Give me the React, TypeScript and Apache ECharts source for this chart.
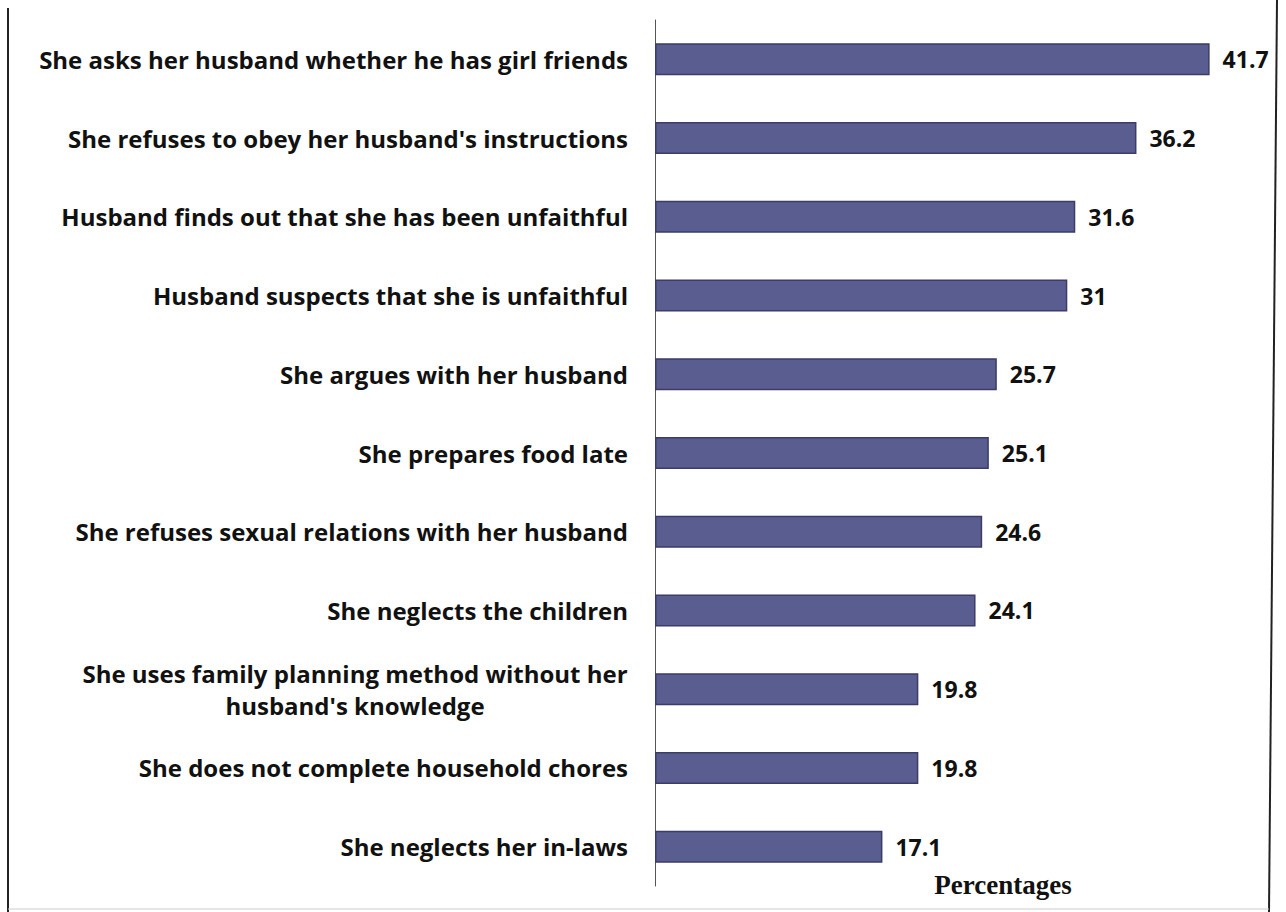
import React, { useEffect, useRef } from "react";
import * as echarts from "echarts";

const categories = [
  "She asks her husband whether he has girl friends",
  "She refuses to obey her husband's instructions",
  "Husband finds out that she has been unfaithful",
  "Husband suspects that she is unfaithful",
  "She argues with her husband",
  "She prepares food late",
  "She refuses sexual relations with her husband",
  "She neglects the children",
  "She uses family planning method without her\nhusband's knowledge",
  "She does not complete household chores",
  "She neglects her in-laws",
];
const values = [41.7, 36.2, 31.6, 31, 25.7, 25.1, 24.6, 24.1, 19.8, 19.8, 17.1];
const axisTitle = "Percentages";

export default function App() {
  const ref = useRef<HTMLDivElement>(null);
  useEffect(() => {
    document.body.style.margin = "0";
    const chart = echarts.init(ref.current!, undefined, { renderer: "svg" });
    const font = "Open Sans";
    const fontSize = 24;
    const ctx = document.createElement("canvas").getContext("2d")!;
    ctx.font = `bold ${fontSize}px "${font}"`;
    const multi = categories.find((c) => c.indexOf("\n") >= 0) || "";
    const multiWidth = Math.max(
      ...multi.split("\n").map((s) => ctx.measureText(s).width)
    );
    chart.setOption({
      animation: false,
      backgroundColor: "#ffffff",
      grid: { left: 655, top: 20, height: 866, width: 598.5 },
      xAxis: {
        type: "value",
        min: 0,
        max: 45,
        show: false,
      },
      yAxis: {
        type: "category",
        inverse: true,
        data: categories,
        axisLine: { show: true, lineStyle: { color: "#555555", width: 1 } },
        axisTick: { show: false },
        axisLabel: {
          margin: 27,
          align: "right",
          fontFamily: font,
          fontWeight: "bold",
          fontSize: fontSize,
          color: "#111111",
          lineHeight: 32,
          formatter: (v: string) => {
            if (v.indexOf("\n") >= 0) {
              return v
                .split("\n")
                .map((s) => "{c|" + s + "}")
                .join("\n");
            }
            return v;
          },
          rich: {
            c: {
              width: Math.ceil(multiWidth),
              align: "center",
              fontFamily: font,
              fontWeight: "bold",
              fontSize: fontSize,
              color: "#111111",
              lineHeight: 32,
            },
          },
        },
      },
      series: [
        {
          type: "bar",
          data: values,
          barWidth: 32,
          itemStyle: {
            color: "#5a5d90",
            borderColor: "#3b3d66",
            borderWidth: 1.5,
          },
          label: {
            show: true,
            position: "right",
            distance: 13,
            fontFamily: font,
            fontWeight: "bold",
            fontSize: 23,
            color: "#111111",
          },
        },
      ],
      graphic: [
        {
          type: "line",
          shape: { x1: 8, y1: 8, x2: 8, y2: 912 },
          style: { stroke: "#222222", lineWidth: 2 },
        },
        {
          type: "line",
          shape: { x1: 1277, y1: 0, x2: 1269, y2: 912 },
          style: { stroke: "#222222", lineWidth: 2 },
        },
        {
          type: "line",
          shape: { x1: 8, y1: 909, x2: 1269, y2: 909 },
          style: { stroke: "#cccccc", lineWidth: 1 },
        },
        {
          type: "text",
          x: 1003,
          y: 885,
          style: {
            text: axisTitle,
            fontFamily: "Liberation Serif",
            fontWeight: "bold",
            fontSize: 27,
            fill: "#111111",
            textAlign: "center",
            textVerticalAlign: "middle",
          },
        },
      ],
    });
    return () => chart.dispose();
  }, []);
  return <div ref={ref} style={{ width: 1286, height: 912 }} />;
}
